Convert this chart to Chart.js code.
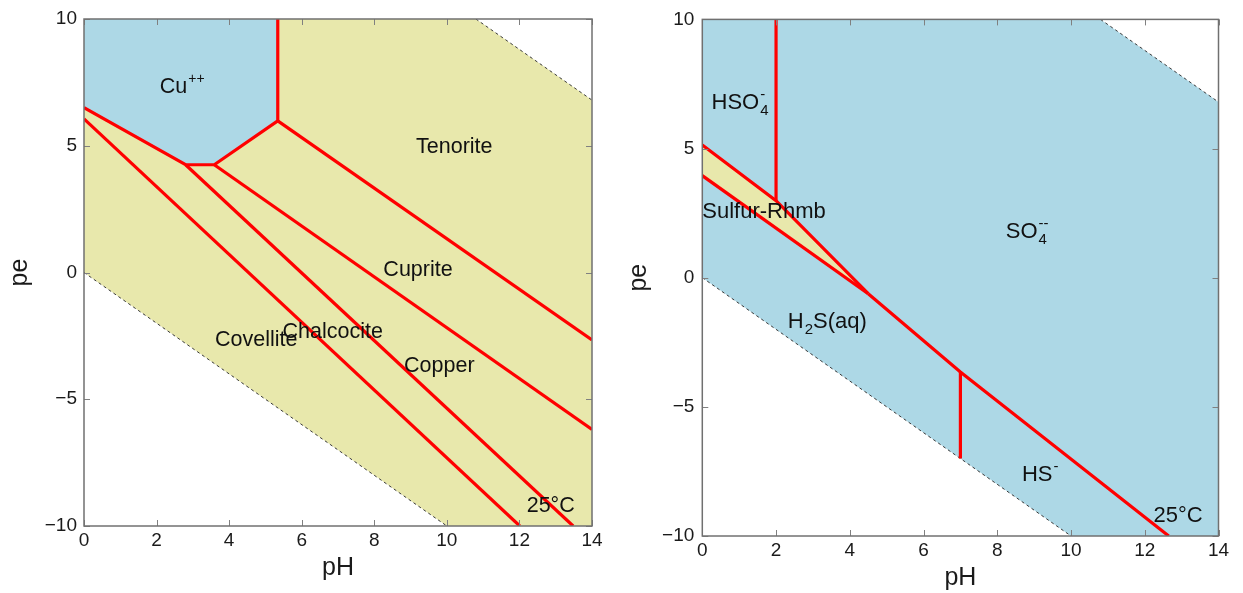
<!DOCTYPE html>
<html><head><meta charset="utf-8">
<script src="https://cdn.jsdelivr.net/npm/chart.js@4/dist/chart.umd.min.js"></script>
<style>
html,body{margin:0;padding:0;background:#fff;}
#wrap{position:relative;width:1243px;height:593px;overflow:hidden;}
.c{position:absolute;top:0;height:593px;}
</style></head><body>
<div id="wrap">
<div class="c" style="left:0;width:620px"><canvas id="cu"></canvas></div>
<div class="c" style="left:620px;width:623px"><canvas id="s"></canvas></div>
</div>
<script>
// ---- tick labels ----
const xTicks = [0, 2, 4, 6, 8, 10, 12, 14];
const yTicks = [-10, -5, 0, 5, 10];

// ---- water stability limits [pH, pe] ----
const waterUpper = [[10.8, 10], [14, 6.8]];
const waterLower = [[0, 0], [10, -10]];
const waterField = [[0, 10], [10.8, 10], [14, 6.8], [14, -10], [10, -10], [0, 0]];

// ---- Cu system [pH, pe] ----
const cuIonField = [[0, 10], [5.34, 10], [5.34, 5.98], [3.59, 4.25], [2.8, 4.25], [0, 6.5]];
const cuIonBoundary = [[0, 6.5], [2.8, 4.25], [3.59, 4.25], [5.34, 5.98], [5.34, 10]];
const tenoriteCuprite = [[5.34, 5.98], [14, -2.66]];
const cupriteCopper = [[3.59, 4.25], [14, -6.19]];
const chalcociteCopper = [[2.8, 4.25], [13.48, -10]];
const covelliteChalcocite = [[0, 6.06], [12.01, -10]];

// ---- S system [pH, pe] ----
const sulfurField = [[0, 5.14], [2, 2.98], [4.5, -0.62], [0, 3.95]];
const hso4Boundary = [[2, 10], [2, 2.98]];
const sulfurUpper = [[0, 5.14], [2, 2.98], [4.5, -0.62]];
const sulfurLower = [[0, 3.95], [4.5, -0.62]];
const sulfideBoundary = [[4.5, -0.62], [7, -3.65], [12.65, -10]];
const h2sHs = [[7, -3.65], [7, -7]];

// ---- field labels (anchor pH, pe) ----
const cuLabels = [
  {x: 2.09, y: 7.09, parts: [{t: 'Cu'}, {sup: '++'}]},
  {x: 9.15, y: 4.73, parts: [{t: 'Tenorite'}]},
  {x: 8.25, y: -0.14, parts: [{t: 'Cuprite'}]},
  {x: 3.61, y: -2.90, parts: [{t: 'Covellite'}]},
  {x: 5.47, y: -2.60, parts: [{t: 'Chalcocite'}]},
  {x: 8.82, y: -3.91, parts: [{t: 'Copper'}]},
  {x: 12.2, y: -9.45, parts: [{t: '25°C'}]}
];
const sLabels = [
  {x: 0.25, y: 6.53, parts: [{t: 'HSO'}, {sub: '4', sup: '-'}]},
  {x: 0.0, y: 2.31, parts: [{t: 'Sulfur-Rhmb'}]},
  {x: 8.23, y: 1.54, parts: [{t: 'SO'}, {sub: '4', sup: '--'}]},
  {x: 2.32, y: -1.93, parts: [{t: 'H'}, {sub: '2'}, {t: 'S(aq)'}]},
  {x: 8.67, y: -7.88, parts: [{t: 'HS'}, {sup: '-'}]},
  {x: 12.24, y: -9.44, parts: [{t: '25°C'}]}
];

const FONT = "'Liberation Sans', Arial, Helvetica, sans-serif";
const BLUE = 'rgb(173,216,230)';
const YELLOW = 'rgb(232,232,172)';
const RED = '#ff0000';

const pts = a => a.map(([x, y]) => ({x, y}));
const poly = (a, color, order) => ({data: pts(a), showLine: true, fill: 'shape', backgroundColor: color,
  borderColor: 'rgba(0,0,0,0)', borderWidth: 0, pointRadius: 0, tension: 0, order});
const red = a => ({data: pts(a), showLine: true, fill: false, borderColor: RED, borderWidth: 3.2,
  pointRadius: 0, tension: 0, order: 1, borderCapStyle: 'butt', borderJoinStyle: 'miter'});
const dashed = a => ({data: pts(a), showLine: true, fill: false, borderColor: '#3a3a3a', borderWidth: 1,
  borderDash: [3, 3], pointRadius: 0, tension: 0, order: 5});

const framePlugin = {
  id: 'frame',
  afterDatasetsDraw(chart) {
    const {ctx, chartArea: a, scales: {x, y}} = chart;
    ctx.save();
    ctx.strokeStyle = '#808080';
    ctx.lineWidth = 1;
    ctx.beginPath();
    x.ticks.forEach(t => {
      const p = Math.round(x.getPixelForValue(t.value)) + 0.5;
      ctx.moveTo(p, a.bottom); ctx.lineTo(p, a.bottom - 6);
      ctx.moveTo(p, a.top); ctx.lineTo(p, a.top + 6);
    });
    y.ticks.forEach(t => {
      const p = Math.round(y.getPixelForValue(t.value)) + 0.5;
      ctx.moveTo(a.left, p); ctx.lineTo(a.left + 6, p);
      ctx.moveTo(a.right, p); ctx.lineTo(a.right - 6, p);
    });
    ctx.stroke();
    ctx.strokeStyle = '#707070';
    ctx.lineWidth = 1.5;
    ctx.strokeRect(a.left, a.top, a.right - a.left, a.bottom - a.top);
    ctx.restore();
  }
};

const labelPlugin = {
  id: 'fieldLabels',
  afterDatasetsDraw(chart, args, opts) {
    const {ctx, scales: {x, y}} = chart;
    const size = opts.size, small = Math.round(size * 0.66);
    ctx.save();
    ctx.fillStyle = '#111';
    ctx.textAlign = 'left';
    ctx.textBaseline = 'alphabetic';
    (opts.items || []).forEach(l => {
      let px = x.getPixelForValue(l.x);
      const py = y.getPixelForValue(l.y);
      l.parts.forEach(p => {
        if (p.t) {
          ctx.font = size + 'px ' + FONT;
          ctx.fillText(p.t, px, py);
          px += ctx.measureText(p.t).width;
        } else {
          ctx.font = small + 'px ' + FONT;
          let w = 0;
          if (p.sup) { ctx.fillText(p.sup, px + 1, py - size * 0.45); w = Math.max(w, ctx.measureText(p.sup).width); }
          if (p.sub) { ctx.fillText(p.sub, px + 1, py + size * 0.28); w = Math.max(w, ctx.measureText(p.sub).width); }
          px += w + 1;
        }
      });
    });
    ctx.restore();
  }
};

function makeChart(id, datasets, labels, geo) {
  const tickFont = {family: FONT, size: 19};
  return new Chart(document.getElementById(id), {
    type: 'scatter',
    data: {datasets},
    options: {
      responsive: true, maintainAspectRatio: false, animation: false,
      layout: {padding: {left: 0, right: geo.right, top: geo.top, bottom: 0}},
      plugins: {legend: {display: false}, tooltip: {enabled: false}, fieldLabels: {items: labels, size: geo.labelSize}},
      scales: {
        x: {
          type: 'linear', min: 0, max: 14,
          afterBuildTicks: s => { s.ticks = xTicks.map(v => ({value: v})); },
          ticks: {font: tickFont, color: '#1a1a1a', padding: geo.xPad, maxRotation: 0, autoSkip: false},
          grid: {display: false, drawTicks: false}, border: {display: false},
          title: {display: true, text: 'pH', color: '#1a1a1a', font: {family: FONT, size: 25}, padding: {top: 0, bottom: geo.xTitlePad}},
          afterFit: s => { s.height = geo.xHeight; }
        },
        y: {
          type: 'linear', min: -10, max: 10,
          afterBuildTicks: s => { s.ticks = yTicks.map(v => ({value: v})); },
          ticks: {font: tickFont, color: '#1a1a1a', padding: geo.yPad, autoSkip: false,
            callback: v => String(v).replace('-', '\u2212')},
          grid: {display: false, drawTicks: false}, border: {display: false},
          title: {display: true, text: 'pe', color: '#1a1a1a', font: {family: FONT, size: 25}, padding: {top: geo.yTitlePad, bottom: 0}},
          afterFit: s => { s.width = geo.yWidth; }
        }
      }
    },
    plugins: [framePlugin, labelPlugin]
  });
}

makeChart('cu', [
  red(cuIonBoundary), red(tenoriteCuprite), red(cupriteCopper), red(chalcociteCopper), red(covelliteChalcocite),
  dashed(waterUpper), dashed(waterLower),
  poly(cuIonField, BLUE, 9), poly(waterField, YELLOW, 10)
], cuLabels, {right: 28, top: 19, xHeight: 67, yWidth: 84, xPad: 3, yPad: 7, xTitlePad: 10, yTitlePad: 5, labelSize: 21.5});

makeChart('s', [
  red(hso4Boundary), red(sulfurUpper), red(sulfurLower), red(sulfideBoundary), red(h2sHs),
  dashed(waterUpper), dashed(waterLower),
  poly(sulfurField, YELLOW, 9), poly(waterField, BLUE, 10)
], sLabels, {right: 24.5, top: 17.3, xHeight: 57, yWidth: 82.3, xPad: 3, yPad: 8, xTitlePad: 0, yTitlePad: 4, labelSize: 22});
</script>
</body></html>
